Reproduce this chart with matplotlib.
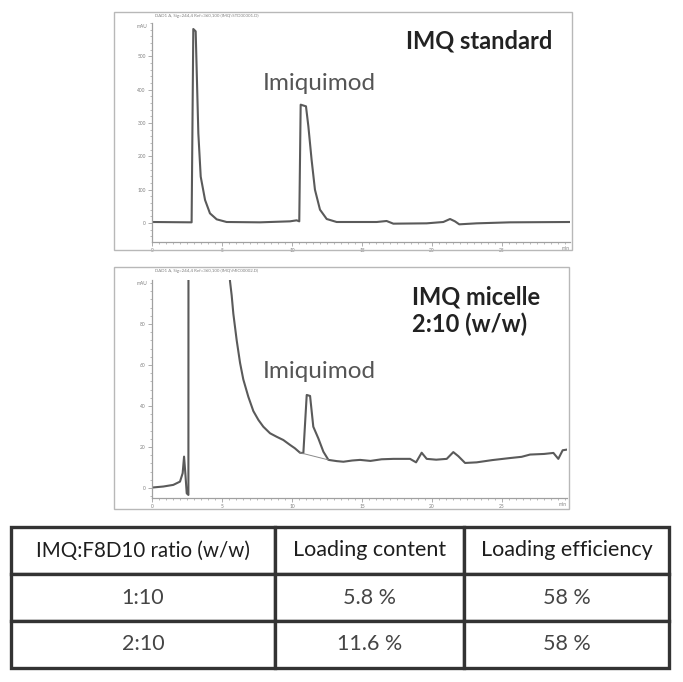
import numpy as np
import matplotlib
matplotlib.use("Agg")
import matplotlib.pyplot as plt
from matplotlib.patches import Rectangle
from matplotlib.ticker import AutoMinorLocator

plt.rcParams['font.family'] = ['Lato', 'DejaVu Sans']

# HPLC trace of the IMQ standard (time in min, signal in mAU)
std_time = [0.0, 2.83, 2.95, 3.12, 3.31, 3.48, 3.79, 4.14, 4.62, 5.33, 7.71, 9.86,
            10.33, 10.52, 10.62, 11.0, 11.17, 11.4, 11.64, 12.0, 12.48, 13.19, 16.05,
            16.76, 17.24, 19.62, 20.81, 21.29, 21.64, 21.95, 23.19, 25.57, 29.9]
std_signal = [3, 2, 582, 575, 269, 139, 69, 29, 11, 3, 2, 5,
              8, 5, 355, 350, 290, 190, 100, 40, 12, 3, 3,
              6, -2, -1, 3, 12, 5, -4, -1, 2, 3]

# HPLC trace of the IMQ micelle 2:10 (w/w)
mic_time = [0.0, 0.81, 1.52, 2.0, 2.19, 2.29, 2.38, 2.48, 2.6, 2.72, 3.5, 4.5, 5.3,
            5.57, 5.69, 5.81, 6.05, 6.29, 6.52, 6.88, 7.24, 7.6, 7.95, 8.43, 8.9,
            9.38, 9.86, 10.2, 10.57, 10.81, 11.05, 11.29, 11.52, 11.88, 12.24, 12.6,
            13.2, 13.67, 14.3, 14.86, 15.6, 16.4, 17.24, 18.43, 18.86, 19.26, 19.62,
            20.3, 21.05, 21.52, 21.88, 22.36, 23.19, 24.3, 25.57, 26.4, 27.0, 28.0,
            28.67, 29.02, 29.33, 29.62]
mic_signal = [0.2, 0.7, 1.5, 3.1, 7.2, 15.3, 7.2, -2.6, -3.4, 3000, 1200, 400, 150,
              101, 94, 85, 72, 61, 53, 44.5, 37.5, 33.2, 29.9, 26.7, 25.0,
              23.4, 21.0, 19.4, 17.2, 17.0, 45.4, 44.9, 29.9, 24.2, 17.7, 13.7,
              13.1, 12.8, 13.4, 13.7, 13.2, 14.0, 14.2, 14.2, 12.5, 17.2, 14.2,
              13.8, 14.2, 17.5, 15.5, 12.2, 12.5, 13.6, 14.6, 15.2, 16.3, 16.6,
              17.1, 14.2, 18.4, 18.7]

# integration baseline drawn under the imiquimod peak
mic_base_time = [10.57, 12.6]
mic_base_signal = [17.2, 13.7]

time_ticks = [0, 5, 10, 15, 20, 25]
std_yticks = [0, 100, 200, 300, 400, 500]
mic_yticks = [0, 20, 40, 60, 80]

table_header = ["IMQ:F8D10 ratio (w/w)", "Loading content", "Loading efficiency"]
table_ratio = ["1:10", "2:10"]
table_content = ["5.8 %", "11.6 %"]
table_efficiency = ["58 %", "58 %"]

W, H = 683., 682.
AX_GREY = "#a0a0a0"
TRACE = "#5a5a5a"


def fig_rect(x0, y0, x1, y1):
    # pixel box (top-left origin) -> figure fraction [l, b, w, h]
    return [x0 / W, 1 - y1 / H, (x1 - x0) / W, (y1 - y0) / H]


def chromatogram(fig, box, rect, t, s, ylim, xmax, yticks, header):
    l, b, w, h = fig_rect(*box)
    fig.patches.append(Rectangle((l, b), w, h, transform=fig.transFigure,
                                 fill=False, edgecolor="#b8b8b8", lw=1.0))

    ax = fig.add_axes(fig_rect(*rect))
    ax.plot(t, s, color=TRACE, lw=1.5)
    ax.set_xlim(0, xmax)
    ax.set_ylim(*ylim)
    ax.set_xticks(time_ticks)
    ax.set_yticks(yticks)
    ax.xaxis.set_minor_locator(AutoMinorLocator(10))
    ax.yaxis.set_minor_locator(AutoMinorLocator(5))
    for sp in ["top", "right"]:
        ax.spines[sp].set_visible(False)
    for sp in ["left", "bottom"]:
        ax.spines[sp].set_color(AX_GREY)
        ax.spines[sp].set_linewidth(0.9)
    ax.tick_params(which="major", length=3, width=0.6, color=AX_GREY,
                   labelsize=3.5, labelcolor="#808080", pad=1.5)
    ax.tick_params(which="minor", length=1.5, width=0.5, color=AX_GREY)
    ax.text(1.0, -0.02, "min", transform=ax.transAxes, ha="right", va="top",
            fontsize=3.5, color="#808080")
    ax.text(-0.012, 0.985, "mAU", transform=ax.transAxes, ha="right", va="center",
            fontsize=3.5, color="#808080")
    fig.text((box[0] + 41) / W, 1 - (box[1] + 4) / H, header, fontsize=3.2,
             color="#808080", va="center", ha="left")
    return ax


def main():
    fig = plt.figure(figsize=(6.83, 6.82), dpi=100)

    ax1 = chromatogram(fig, (114, 12, 572, 250), (152, 23, 570, 242),
                       std_time, std_signal, (-57, 600), 29.86, std_yticks,
                       "DAD1 A, Sig=244,4 Ref=360,100 (IMQ\\STD00001.D)")
    ax1.text(0.957, 0.92, "IMQ standard", transform=ax1.transAxes, ha="right",
             va="center", fontsize=17, fontweight="bold", color="#222222")
    ax1.text(0.266, 0.725, "Imiquimod", transform=ax1.transAxes, ha="left",
             va="center", fontsize=17.5, color="#555555")

    ax2 = chromatogram(fig, (114, 267, 569, 509), (152, 280, 567, 498),
                       mic_time, mic_signal, (-4.9, 101.5), 29.64, mic_yticks,
                       "DAD1 A, Sig=244,4 Ref=360,100 (IMQ\\MIC00002.D)")
    ax2.plot(mic_base_time, mic_base_signal, color="#8a8a8a", lw=0.7)
    ax2.text(0.627, 0.975, "IMQ micelle\n2:10 (w/w)", transform=ax2.transAxes,
             ha="left", va="top", fontsize=17, fontweight="bold",
             color="#222222", linespacing=1.2)
    ax2.text(0.267, 0.58, "Imiquimod", transform=ax2.transAxes, ha="left",
             va="center", fontsize=17.5, color="#555555")

    # loading table
    tab_ax = fig.add_axes(fig_rect(11, 527, 669, 668))
    tab_ax.axis("off")
    cells = [table_header] + [list(r) for r in zip(table_ratio, table_content, table_efficiency)]
    tab = tab_ax.table(cellText=cells, colWidths=[264, 189, 205], bbox=[0, 0, 1, 1],
                       cellLoc="center")
    tab.auto_set_font_size(False)
    for (r, c), cell in tab.get_celld().items():
        cell.set_edgecolor("#333333")
        cell.set_linewidth(2.4)
        txt = cell.get_text()
        txt.set_fontsize(14.8 if (r == 0 and c == 0) else 15.5)
        txt.set_color("#1e1e1e" if r == 0 else "#454545")

    fig.savefig("out.png", dpi=100)


if __name__ == "__main__":
    main()
